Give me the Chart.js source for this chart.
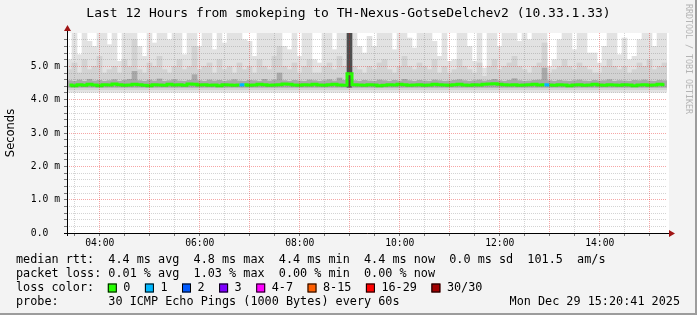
<!DOCTYPE html>
<html lang="en">
<head>
<meta charset="UTF-8">
<title>Last 12 Hours from smokeping to TH-Nexus-GotseDelchev2 (10.33.1.33)</title>
<style>
  html, body { margin: 0; padding: 0; background: #f3f3f3; }
  #wrap { width: 697px; height: 315px; }
</style>
</head>
<body>
<div id="wrap"><canvas id="chart" width="697" height="315"></canvas></div>
<script src="https://cdn.jsdelivr.net/npm/chart.js"></script>
<script>
// window: 03:20:41 -> 15:20:41, one smoke column every 6 minutes
const startHour = 3 + 20 / 60 + 41 / 3600;
const spanHours = 12;
const stepHours = 0.1;

// top of the light smoke (ms)
const smokeTop = [
  5.2, 6.0, 5.35, 6.0, 5.75, 5.6, 6.0, 6.0, 5.65, 6.0,
  5.15, 6.0, 6.0, 6.0, 5.6, 5.3, 6.0, 5.7, 6.0, 6.0,
  5.8, 6.0, 6.0, 5.35, 6.0, 6.0, 5.6, 6.0, 6.0, 5.5,
  6.0, 5.7, 6.0, 6.0, 6.0, 5.8, 5.75, 5.3, 6.0, 6.0,
  6.0, 6.0, 6.0, 5.6, 5.5, 6.0, 5.3, 6.0, 6.0, 5.2,
  5.1, 6.0, 6.0, 5.5, 6.0, 6.0, 6.0, 6.0, 5.6, 5.4,
  5.9, 5.6, 6.0, 6.0, 6.0, 5.5, 6.0, 6.0, 5.85, 5.55,
  6.0, 6.0, 6.0, 5.75, 5.3, 6.0, 5.15, 5.2, 6.0, 6.0,
  5.6, 5.15, 6.0, 4.95, 6.0, 6.0, 5.6, 6.0, 6.0, 6.0,
  5.75, 6.0, 5.8, 6.0, 6.0, 6.0, 5.0, 5.2, 5.8, 6.0,
  6.0, 5.5, 6.0, 6.0, 5.4, 5.4, 5.1, 5.6, 6.0, 6.0,
  5.35, 5.85, 5.2, 5.3, 5.8, 6.0, 6.0, 5.6, 6.0, 6.0
];
// top of the medium smoke (ms)
const smokeMid = [
  4.9, 5.1, 4.8, 5.2, 4.9, 5.0, 5.3, 4.8, 4.9, 5.0,
  4.8, 5.2, 5.0, 5.8, 4.9, 4.8, 5.1, 5.0, 5.3, 4.9,
  4.8, 5.0, 5.2, 4.9, 5.0, 5.6, 4.9, 5.0, 5.1, 4.8,
  5.2, 4.9, 5.0, 4.8, 5.1, 4.9, 5.0, 4.8, 5.2, 5.0,
  4.9, 5.3, 5.6, 5.0, 4.9, 5.1, 4.8, 5.0, 5.2, 4.8,
  4.8, 5.0, 5.1, 4.9, 5.3, 5.0, 5.2, 5.0, 4.9, 4.8,
  5.0, 4.9, 5.1, 5.2, 4.9, 4.8, 5.0, 5.3, 5.0, 4.9,
  5.1, 5.0, 4.9, 5.2, 4.8, 5.0, 4.8, 4.9, 5.2, 5.0,
  4.9, 4.8, 5.1, 4.7, 5.0, 5.2, 4.9, 5.0, 5.1, 5.3,
  5.0, 4.9, 4.8, 5.0, 5.1, 5.7, 4.8, 4.9, 5.0, 5.2,
  5.0, 4.9, 5.1, 5.0, 4.9, 4.8, 4.8, 5.0, 5.2, 5.0,
  4.9, 5.0, 4.8, 4.9, 5.1, 5.0, 5.2, 4.9, 5.0, 5.1
];
// top of the dark smoke around the median (ms)
const smokeDark = [
  4.57, 4.55, 4.59, 4.55, 4.61, 4.56, 4.58, 4.55, 4.57, 4.60,
  4.55, 4.58, 4.61, 4.85, 4.57, 4.55, 4.59, 4.56, 4.62, 4.55,
  4.57, 4.60, 4.56, 4.55, 4.58, 4.75, 4.57, 4.55, 4.59, 4.56,
  4.58, 4.55, 4.57, 4.60, 4.56, 4.55, 4.58, 4.57, 4.55, 4.61,
  4.56, 4.59, 4.80, 4.57, 4.55, 4.58, 4.56, 4.55, 4.59, 4.57,
  4.55, 4.57, 4.60, 4.56, 4.65, 4.58, 6.00, 4.57, 4.55, 4.58,
  4.56, 4.55, 4.59, 4.57, 4.55, 4.58, 4.56, 4.61, 4.57, 4.55,
  4.58, 4.56, 4.55, 4.59, 4.57, 4.55, 4.56, 4.58, 4.60, 4.57,
  4.55, 4.57, 4.59, 4.56, 4.58, 4.61, 4.57, 4.55, 4.58, 4.63,
  4.57, 4.55, 4.56, 4.58, 4.59, 4.95, 4.57, 4.55, 4.58, 4.56,
  4.55, 4.57, 4.59, 4.56, 4.55, 4.58, 4.56, 4.57, 4.60, 4.55,
  4.57, 4.56, 4.55, 4.58, 4.57, 4.59, 4.56, 4.55, 4.58, 4.57
];
// median rtt (ms)
const median = [
  4.44, 4.42, 4.45, 4.43, 4.46, 4.44, 4.42, 4.45, 4.44, 4.47,
  4.45, 4.43, 4.44, 4.46, 4.45, 4.43, 4.42, 4.45, 4.44, 4.43,
  4.46, 4.44, 4.45, 4.43, 4.47, 4.46, 4.44, 4.45, 4.43, 4.44,
  4.42, 4.45, 4.44, 4.43, 4.44, 4.45, 4.43, 4.44, 4.46, 4.45,
  4.43, 4.44, 4.45, 4.47, 4.46, 4.44, 4.43, 4.45, 4.44, 4.46,
  4.44, 4.43, 4.45, 4.46, 4.44, 4.43, 4.78, 4.45, 4.44, 4.43,
  4.45, 4.44, 4.42, 4.43, 4.45, 4.44, 4.46, 4.45, 4.43, 4.44,
  4.45, 4.43, 4.44, 4.46, 4.45, 4.44, 4.43, 4.45, 4.46, 4.44,
  4.43, 4.45, 4.44, 4.46, 4.47, 4.48, 4.46, 4.45, 4.44, 4.45,
  4.43, 4.44, 4.45, 4.46, 4.44, 4.45, 4.44, 4.43, 4.45, 4.44,
  4.42, 4.44, 4.45, 4.43, 4.44, 4.46, 4.44, 4.43, 4.45, 4.44,
  4.43, 4.45, 4.44, 4.42, 4.44, 4.45, 4.43, 4.44, 4.46, 4.45
];
// loss bucket per column (index into lossLabels)
const lossBucket = [
  0, 0, 0, 0, 0, 0, 0, 0, 0, 0, 0, 0, 0, 0, 0, 0, 0, 0, 0, 0,
  0, 0, 0, 0, 0, 0, 0, 0, 0, 0, 0, 0, 0, 0, 1, 0, 0, 0, 0, 0,
  0, 0, 0, 0, 0, 0, 0, 0, 0, 0, 0, 0, 0, 0, 0, 0, 0, 0, 0, 0,
  0, 0, 0, 0, 0, 0, 0, 0, 0, 0, 0, 0, 0, 0, 0, 0, 0, 0, 0, 0,
  0, 0, 0, 0, 0, 0, 0, 0, 0, 0, 0, 0, 0, 0, 0, 1, 0, 0, 0, 0,
  0, 0, 0, 0, 0, 0, 0, 0, 0, 0, 0, 0, 0, 0, 0, 0, 0, 0, 0, 0
];
const smokeFloor = 4.22, midFloor = 4.30, darkFloor = 4.37;

const lossLabels = ['0', '1', '2', '3', '4-7', '8-15', '16-29', '30/30'];
const lossColors = ['#26ff00', '#00b8ff', '#0059ff', '#7e00ff', '#ff00ff', '#ff5e00', '#ff0000', '#a10000'];

const xTickHours = [3.5, 4, 4.5, 5, 5.5, 6, 6.5, 7, 7.5, 8, 8.5, 9, 9.5, 10, 10.5, 11, 11.5, 12, 12.5, 13, 13.5, 14, 14.5, 15];
const xLabelHours = [4, 6, 8, 10, 12, 14];
const yTicks = [0, 0.2, 0.4, 0.6, 0.8, 1, 1.2, 1.4, 1.6, 1.8, 2, 2.2, 2.4, 2.6, 2.8, 3, 3.2, 3.4, 3.6, 3.8, 4, 4.2, 4.4, 4.6, 4.8, 5, 5.2, 5.4, 5.6, 5.8];
const yLabelValues = [0, 1, 2, 3, 4, 5];

const legendLines = [
  'median rtt:  4.4 ms avg  4.8 ms max  4.4 ms min  4.4 ms now  0.0 ms sd  101.5  am/s',
  'packet loss: 0.01 % avg  1.03 % max  0.00 % min  0.00 % now',
  'loss color:',
  'probe:       30 ICMP Echo Pings (1000 Bytes) every 60s'
];
const stampText = 'Mon Dec 29 15:20:41 2025';
const titleText = 'Last 12 Hours from smokeping to TH-Nexus-GotseDelchev2 (10.33.1.33)';

const times = median.map((_, i) => startHour + (i + 0.5) * stepHours);
const bars = (lo, tops) => tops.map((v, i) => ({ x: times[i], y: [lo, v] }));
const near = (a, list) => list.some(b => Math.abs(a - b) < 1e-6);
const isWhole = v => Math.abs(v - Math.round(v)) < 1e-6;
const hh = v => String(Math.round(v)).padStart(2, '0') + ':00';

const MONO = '"DejaVu Sans Mono", monospace';
const CH = 7.1; // legend char width

const rrdLook = {
  id: 'rrdLook',
  beforeDraw(chart) {
    const { ctx, chartArea: a } = chart;
    ctx.save();
    ctx.fillStyle = '#f3f3f3';
    ctx.fillRect(0, 0, chart.width, chart.height);
    ctx.fillStyle = '#ffffff';
    ctx.fillRect(a.left, a.top, a.right - a.left + 2, a.bottom - a.top);
    ctx.restore();
  },
  afterDraw(chart) {
    const { ctx, chartArea: a } = chart;
    ctx.save();
    // axes + arrows
    ctx.strokeStyle = '#000';
    ctx.lineWidth = 1;
    ctx.beginPath();
    ctx.moveTo(a.left - 3, a.bottom + 0.5);
    ctx.lineTo(a.right + 4, a.bottom + 0.5);
    ctx.moveTo(a.left + 0.5, a.bottom + 3);
    ctx.lineTo(a.left + 0.5, a.top - 4);
    ctx.stroke();
    ctx.fillStyle = '#a01414';
    ctx.beginPath();
    ctx.moveTo(a.left - 3, a.top - 2);
    ctx.lineTo(a.left + 4, a.top - 2);
    ctx.lineTo(a.left + 0.5, a.top - 8);
    ctx.closePath();
    ctx.fill();
    ctx.beginPath();
    ctx.moveTo(a.right + 2, a.bottom - 3);
    ctx.lineTo(a.right + 2, a.bottom + 4);
    ctx.lineTo(a.right + 8, a.bottom + 0.5);
    ctx.closePath();
    ctx.fill();

    // title
    ctx.fillStyle = '#000';
    ctx.font = '13px ' + MONO;
    ctx.textAlign = 'center';
    ctx.textBaseline = 'middle';
    ctx.fillText(titleText, chart.width / 2, 14);

    // y title
    ctx.save();
    ctx.translate(11, (a.top + a.bottom) / 2);
    ctx.rotate(-Math.PI / 2);
    ctx.font = '11.5px "DejaVu Sans", sans-serif';
    ctx.fillText('Seconds', 0, 0);
    ctx.restore();

    // legend
    ctx.font = '11.8px ' + MONO;
    ctx.textAlign = 'left';
    const rowY = [260, 274, 288, 302];
    legendLines.forEach((t, i) => ctx.fillText(t, 16, rowY[i]));
    let bx = 16 + 13 * CH - 0.5;
    lossLabels.forEach((lab, i) => {
      ctx.fillStyle = lossColors[i];
      ctx.fillRect(bx, rowY[2] - 4.5, 9, 9);
      ctx.strokeStyle = '#000';
      ctx.strokeRect(bx + 0.5, rowY[2] - 4, 8, 8);
      ctx.fillStyle = '#000';
      ctx.fillText(lab, bx + 15.5, rowY[2]);
      bx += 30 + CH * lab.length;
    });
    ctx.textAlign = 'right';
    ctx.fillText(stampText, 680, rowY[3]);

    // watermark
    ctx.save();
    ctx.translate(688, 4);
    ctx.rotate(Math.PI / 2);
    ctx.textAlign = 'left';
    ctx.fillStyle = '#b4b4b4';
    ctx.font = '8.3px ' + MONO;
    ctx.fillText('RRDTOOL / TOBI OETIKER', 0, 0);
    ctx.restore();

    // frame shadow
    ctx.fillStyle = '#9c9c9c';
    ctx.fillRect(chart.width - 2, 0, 2, chart.height);
    ctx.fillRect(0, chart.height - 2, chart.width, 2);
    ctx.restore();
  }
};

const gridColor = major => major ? 'rgba(230,0,0,0.35)' : 'rgba(100,100,100,0.28)';

new Chart(document.getElementById('chart'), {
  type: 'bar',
  data: {
    datasets: [
      {
        data: bars(smokeFloor, smokeTop), backgroundColor: '#e2e2e2',
        grouped: false, barPercentage: 1, categoryPercentage: 1, borderWidth: 0, order: 4
      },
      {
        data: bars(midFloor, smokeMid), backgroundColor: '#d2d2d2',
        grouped: false, barPercentage: 1, categoryPercentage: 1, borderWidth: 0, order: 3
      },
      {
        data: bars(darkFloor, smokeDark),
        backgroundColor: c => (c.raw && c.raw.y[1] > 5.5) ? '#4e4e4e' : '#a9a9a9',
        grouped: false, barPercentage: 1, categoryPercentage: 1, borderWidth: 0, order: 2
      },
      {
        type: 'line',
        data: median.map((v, i) => ({ x: times[i], y: v })),
        borderColor: lossColors[0], borderWidth: 3, pointRadius: 0,
        stepped: 'middle', order: 1,
        segment: { borderColor: c => lossColors[lossBucket[c.p0DataIndex]] }
      }
    ]
  },
  options: {
    responsive: false,
    animation: false,
    events: [],
    layout: { padding: { left: 0, top: 33, right: 30, bottom: 0 } },
    plugins: { legend: { display: false }, tooltip: { enabled: false } },
    scales: {
      x: {
        type: 'linear', offset: false,
        min: startHour, max: startHour + spanHours,
        afterBuildTicks: s => { s.ticks = xTickHours.map(v => ({ value: v })); },
        afterFit: s => { s.height = 82; },
        ticks: {
          autoSkip: false, maxRotation: 0, padding: 2,
          color: '#000', font: { family: MONO, size: 9.7 },
          callback: v => near(v, xLabelHours) ? hh(v) : ''
        },
        grid: {
          offset: false, z: 1, tickLength: 3, tickColor: '#777',
          color: c => gridColor(c.tick && isWhole(c.tick.value))
        },
        border: { display: false, dash: [1, 1] }
      },
      y: {
        min: 0, max: 6,
        afterBuildTicks: s => { s.ticks = yTicks.map(v => ({ value: v })); },
        afterFit: s => { s.width = 67; },
        ticks: {
          autoSkip: false, padding: 4, color: '#000', font: { family: MONO, size: 9.7 },
          callback: v => near(v, yLabelValues) ? (v === 0 ? '0.0  ' : v.toFixed(1) + ' m') : ''
        },
        grid: {
          z: 1, tickLength: 3, tickColor: '#777',
          color: c => gridColor(c.tick && isWhole(c.tick.value))
        },
        border: { display: false, dash: [1, 1] }
      }
    }
  },
  plugins: [rrdLook]
});
</script>
</body>
</html>
